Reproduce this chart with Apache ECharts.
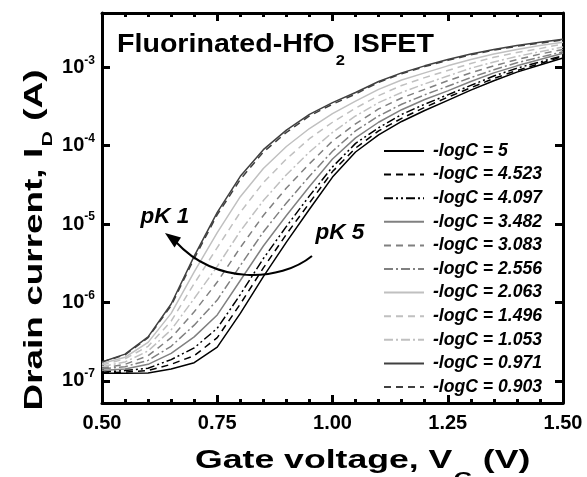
<!DOCTYPE html>
<html>
<head>
<meta charset="utf-8">
<script src="https://cdn.jsdelivr.net/npm/echarts@6/dist/echarts.min.js"></script>
<style>
html, body { margin: 0; padding: 0; background: #fff; }
#main { width: 587px; height: 477px; }
</style>
</head>
<body>
<div id="main"></div>
<script>
// gate voltage (V)
var gateV = [0.50, 0.55, 0.60, 0.65, 0.70, 0.75, 0.80, 0.85, 0.90, 0.95, 1.00,
             1.05, 1.10, 1.15, 1.20, 1.25, 1.30, 1.35, 1.40, 1.45, 1.50];

// log10 of drain current (A)
var logI_5    = [-6.905,-6.905,-6.90,-6.85,-6.77,-6.57,-6.14,-5.67,-5.23,-4.81,-4.40,-4.08,-3.86,-3.69,-3.55,-3.42,-3.29,-3.17,-3.06,-2.97,-2.88];
var logI_4523 = [-6.90,-6.89,-6.87,-6.79,-6.68,-6.45,-6.02,-5.56,-5.13,-4.73,-4.33,-4.03,-3.81,-3.65,-3.51,-3.38,-3.26,-3.14,-3.04,-2.95,-2.86];
var logI_4097 = [-6.89,-6.87,-6.84,-6.73,-6.58,-6.33,-5.90,-5.44,-5.03,-4.64,-4.27,-3.97,-3.77,-3.60,-3.47,-3.35,-3.23,-3.11,-3.01,-2.93,-2.85];
var logI_3482 = [-6.87,-6.85,-6.79,-6.65,-6.44,-6.16,-5.72,-5.28,-4.89,-4.52,-4.17,-3.90,-3.70,-3.54,-3.41,-3.30,-3.18,-3.07,-2.98,-2.90,-2.82];
var logI_3083 = [-6.84,-6.79,-6.68,-6.45,-6.12,-5.74,-5.30,-4.89,-4.54,-4.23,-3.94,-3.72,-3.53,-3.39,-3.28,-3.17,-3.07,-2.98,-2.90,-2.83,-2.77];
var logI_2556 = [-6.85,-6.82,-6.74,-6.56,-6.29,-5.97,-5.53,-5.10,-4.73,-4.39,-4.07,-3.81,-3.62,-3.47,-3.35,-3.24,-3.13,-3.03,-2.94,-2.87,-2.80];
var logI_2063 = [-6.78,-6.70,-6.51,-6.14,-5.61,-5.11,-4.65,-4.29,-4.01,-3.78,-3.59,-3.43,-3.28,-3.16,-3.07,-2.98,-2.90,-2.83,-2.77,-2.72,-2.68];
var logI_1496 = [-6.80,-6.72,-6.56,-6.24,-5.76,-5.30,-4.85,-4.47,-4.17,-3.91,-3.70,-3.52,-3.36,-3.23,-3.13,-3.04,-2.95,-2.87,-2.81,-2.76,-2.70];
var logI_1053 = [-6.82,-6.76,-6.62,-6.35,-5.95,-5.54,-5.09,-4.70,-4.37,-4.08,-3.83,-3.62,-3.45,-3.32,-3.21,-3.11,-3.01,-2.93,-2.86,-2.80,-2.74];
var logI_0971 = [-6.76,-6.66,-6.44,-6.02,-5.41,-4.85,-4.39,-4.05,-3.80,-3.60,-3.45,-3.32,-3.18,-3.07,-2.98,-2.90,-2.83,-2.77,-2.72,-2.68,-2.64];
var logI_0903 = [-6.76,-6.67,-6.45,-6.04,-5.44,-4.88,-4.43,-4.08,-3.83,-3.62,-3.47,-3.34,-3.19,-3.08,-2.99,-2.91,-2.84,-2.78,-2.73,-2.69,-2.65];

var seriesNames = ['-logC = 5', '-logC = 4.523', '-logC = 4.097', '-logC = 3.482',
                   '-logC = 3.083', '-logC = 2.556', '-logC = 2.063', '-logC = 1.496',
                   '-logC = 1.053', '-logC = 0.971', '-logC = 0.903'];
var seriesLogs = [logI_5, logI_4523, logI_4097, logI_3482, logI_3083, logI_2556,
                  logI_2063, logI_1496, logI_1053, logI_0971, logI_0903];

var FONT = 'Liberation Sans';
var BLACK = '#000000', GRAY = '#808080', LIGHT = '#c0c0c0', DARK = '#404040';
var DASH = [7, 5], DASHDOT = [9, 3, 2, 3], DASHDOTDOT = [9, 3, 2, 3, 2, 3];
var lineColors = [BLACK, BLACK, BLACK, GRAY, GRAY, GRAY, LIGHT, LIGHT, LIGHT, DARK, DARK];
var lineTypes = ['solid', DASH, DASHDOTDOT, 'solid', DASH, DASHDOT, 'solid', DASH, DASHDOT, 'solid', DASH];

var series = [];
for (var i = 0; i < seriesNames.length; i++) {
  var logs = seriesLogs[i];
  series.push({
    name: seriesNames[i],
    type: 'line',
    xAxisIndex: 0,
    yAxisIndex: 0,
    symbol: 'none',
    showSymbol: false,
    z: 20 - i,
    lineStyle: { color: lineColors[i], width: 1.5, type: lineTypes[i] },
    itemStyle: { color: lineColors[i] },
    data: gateV.map(function (v, k) { return [v, Math.pow(10, logs[k])]; })
  });
}

function decadeLabel(v) {
  var lg = Math.log10(v);
  var e = Math.round(lg);
  if (Math.abs(lg - e) > 1e-6) return '';
  return '{b|10}{s|' + e + '}';
}

// rich text: main run + subscript run
function subRich(size, subSize, padTop, padBottom) {
  return {
    a: { fontFamily: FONT, fontSize: size, fontWeight: 'bold', fill: '#000', color: '#000', lineHeight: size, padding: [0, 0, padBottom, 0] },
    s: { fontFamily: FONT, fontSize: subSize, fontWeight: 'bold', fill: '#000', color: '#000', lineHeight: subSize, padding: [padTop, 0, 0, 1] }
  };
}

var yMin = 5.2e-8, yMax = 4.95e-3;

var xCommon = {
  type: 'value', min: 0.5, max: 1.5, interval: 0.25,
  axisLine: { show: true, onZero: false, lineStyle: { color: '#000', width: 3 } },
  axisTick: { show: true, inside: true, length: 8, lineStyle: { color: '#000', width: 3 } },
  minorTick: { show: true, splitNumber: 5, length: 4, lineStyle: { color: '#000', width: 3 } },
  splitLine: { show: false }
};
var yCommon = {
  type: 'log', min: yMin, max: yMax, logBase: 10,
  axisLine: { show: true, onZero: false, lineStyle: { color: '#000', width: 3 } },
  axisTick: { show: true, inside: true, length: 8, lineStyle: { color: '#000', width: 3 } },
  minorTick: { show: false },
  splitLine: { show: false }
};

var option = {
  animation: false,
  backgroundColor: '#fff',
  textStyle: { fontFamily: FONT },
  grid: { left: 102, top: 13, width: 461, height: 390, containLabel: false },
  legend: {
    orient: 'vertical',
    left: 383, top: 142,
    padding: 0,
    itemWidth: 40, itemHeight: 14, itemGap: 5.6,
    selectedMode: false,
    itemStyle: { opacity: 0 },
    data: seriesNames,
    textStyle: { fontFamily: FONT, fontSize: 17.6, fontWeight: 'bold', fontStyle: 'italic', color: '#000', padding: [0, 0, 0, 4] }
  },
  xAxis: [
    Object.assign({}, xCommon, {
      position: 'bottom',
      axisLabel: {
        show: true, margin: 10, color: '#000', fontFamily: FONT, fontSize: 20, fontWeight: 'bold',
        formatter: function (v) { return v.toFixed(2); }
      }
    }),
    Object.assign({}, xCommon, { position: 'top', axisLabel: { show: false } })
  ],
  yAxis: [
    Object.assign({}, yCommon, {
      position: 'left',
      axisLabel: {
        show: true, margin: 7, color: '#000',
        formatter: decadeLabel,
        rich: {
          b: { fontFamily: FONT, fontSize: 20, fontWeight: 'bold', color: '#000', lineHeight: 20 },
          s: { fontFamily: FONT, fontSize: 12, fontWeight: 'bold', color: '#000', lineHeight: 12, padding: [0, 0, 14, 0] }
        }
      }
    }),
    Object.assign({}, yCommon, { position: 'right', axisLabel: { show: false } })
  ],
  graphic: [
    {
      // chart title
      type: 'text', z: 50, x: 117, y: 37.5, scaleX: 1.1,
      style: {
        text: '{a|Fluorinated-HfO}{s|2}{a| ISFET}',
        rich: subRich(26, 15, 21, 12),
        align: 'left', verticalAlign: 'top'
      }
    },
    {
      // x axis title
      type: 'text', z: 50, x: 195, y: 455.5, scaleX: 1.37,
      style: {
        text: '{a|Gate voltage, V}{s|G}{a| (V)}',
        rich: subRich(26, 18, 23, 15),
        align: 'left', verticalAlign: 'top'
      }
    },
    {
      // y axis title
      type: 'text', z: 50, x: 38.5, y: 240, scaleX: 1.42, rotation: Math.PI / 2,
      style: {
        text: '{a|Drain current, I}{s|D}{a| (A)}',
        rich: subRich(26, 15, 18, 7),
        align: 'center', verticalAlign: 'middle'
      }
    },
    {
      type: 'bezierCurve', z: 50,
      shape: { x1: 312, y1: 256, cpx1: 280, cpy1: 282, cpx2: 215, cpy2: 285, x2: 176, y2: 242 },
      style: { stroke: '#000', lineWidth: 2, fill: null }
    },
    {
      type: 'polygon', z: 50,
      shape: { points: [[165, 233], [181, 237.5], [174.5, 247.5]] },
      style: { fill: '#000' }
    },
    {
      type: 'text', z: 50, x: 165, y: 217,
      style: { text: 'pK 1', font: 'italic bold 22.5px "Liberation Sans"', fill: '#000', align: 'center', verticalAlign: 'middle' }
    },
    {
      type: 'text', z: 50, x: 340, y: 233,
      style: { text: 'pK 5', font: 'italic bold 22.5px "Liberation Sans"', fill: '#000', align: 'center', verticalAlign: 'middle' }
    }
  ],
  series: series
};

var chart = echarts.init(document.getElementById('main'));
chart.setOption(option);
</script>
</body>
</html>
